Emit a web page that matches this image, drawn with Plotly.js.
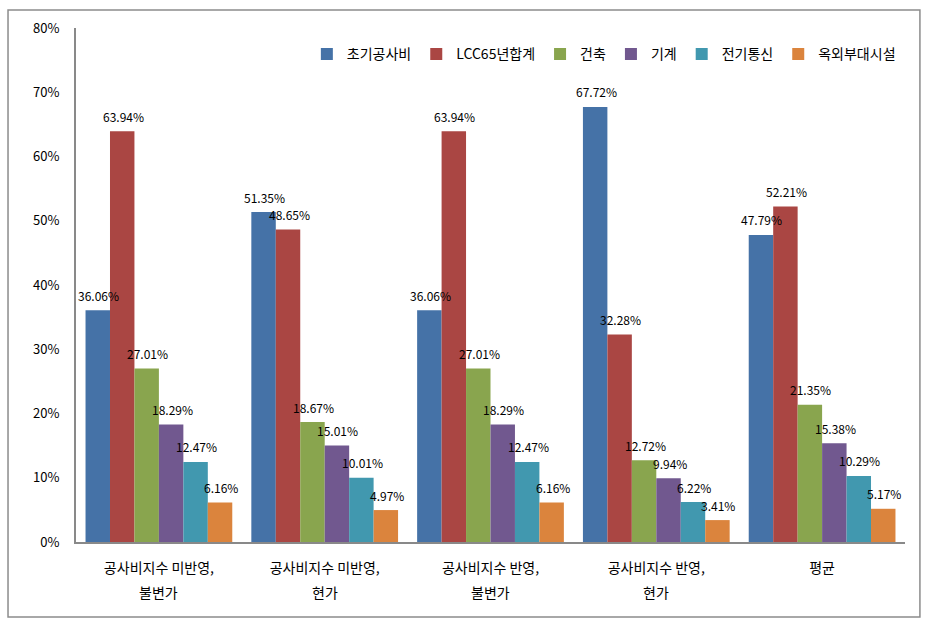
<!DOCTYPE html>
<html>
<head>
<meta charset="utf-8">
<script src="https://cdn.plot.ly/plotly-3.0.1.min.js"></script>
<style>
  body { margin: 0; background: #fff; }
  #chart { width: 932px; height: 625px; }
</style>
</head>
<body>
<div id="chart"></div>
<script>
// categories: first and second line of each label
var catLine1 = ['공사비지수 미반영,', '공사비지수 미반영,', '공사비지수 반영,', '공사비지수 반영,', '평균'];
var catLine2 = ['불변가', '현가', '불변가', '현가', ''];
var categories = catLine1.map((c, i) => c + ' ' + catLine2[i] + ' ' + i);

var seriesNames = ['초기공사비', 'LCC65년합계', '건축', '기계', '전기통신', '옥외부대시설'];

// values in percent
var initialCost = [36.06, 51.35, 36.06, 67.72, 47.79];
var lcc65Total  = [63.94, 48.65, 63.94, 32.28, 52.21];
var building    = [27.01, 18.67, 27.01, 12.72, 21.35];
var machinery   = [18.29, 15.01, 18.29, 9.94, 15.38];
var electric    = [12.47, 10.01, 12.47, 6.22, 10.29];
var outdoor     = [6.16, 4.97, 6.16, 3.41, 5.17];

var seriesValues = [initialCost, lcc65Total, building, machinery, electric, outdoor];
var colors = ['#4572A7', '#AA4643', '#89A54E', '#71588F', '#4198AF', '#DB843D'];

var font = 'Noto Sans CJK KR, sans-serif';
var bargap = 0.115;

var traces = seriesNames.map(function (name, i) {
    return {
        type: 'bar',
        name: name,
        x: categories,
        y: seriesValues[i].map(v => v / 100),
        marker: { color: colors[i] },
        hoverinfo: 'x+y'
    };
});

// bar width in px, used to put the value labels over their bars
var plotWidth = 932 - 76 - 27;
var barPx = plotWidth / categories.length * (1 - bargap) / seriesNames.length;

var annotations = [];
// second line of category labels
categories.forEach(function (c, i) {
    annotations.push({
        x: c, xref: 'x',
        y: -0.097, yref: 'paper',
        text: catLine2[i],
        showarrow: false,
        font: { family: font, size: 14, color: '#000' },
        yanchor: 'middle'
    });
});
// value labels
seriesValues.forEach(function (vals, s) {
    vals.forEach(function (v, i) {
        annotations.push({
            x: categories[i], xref: 'x',
            y: v / 100, yref: 'y',
            text: v.toFixed(2) + '%',
            showarrow: false,
            xshift: (s - 2.5) * barPx + 1,
            yshift: 15,
            yanchor: 'middle',
            font: { family: font, size: 12, color: '#000' }
        });
    });
});

var layout = {
    width: 932,
    height: 625,
    margin: { l: 76, r: 27, t: 28, b: 83 },
    paper_bgcolor: '#fff',
    plot_bgcolor: '#fff',
    font: { family: font, color: '#000' },
    barmode: 'group',
    bargap: bargap,
    bargroupgap: 0,
    showlegend: true,
    legend: {
        orientation: 'h',
        x: 0.995, xanchor: 'right',
        y: 0.98, yanchor: 'top',
        font: { family: font, size: 14 },
        itemwidth: 30,
        bgcolor: 'rgba(0,0,0,0)'
    },
    xaxis: {
        type: 'category',
        tickvals: categories,
        ticktext: catLine1,
        tickfont: { family: font, size: 14 },
        showline: true,
        linecolor: '#898989',
        linewidth: 2,
        ticks: '',
        ticklabelstandoff: 12,
        showgrid: false,
        zeroline: false,
        fixedrange: true
    },
    yaxis: {
        range: [0, 0.8],
        dtick: 0.1,
        tickformat: '.0%',
        tickfont: { family: font, size: 13 },
        showline: true,
        linecolor: '#898989',
        linewidth: 2,
        ticks: '',
        ticklabelstandoff: 12,
        showgrid: false,
        zeroline: false,
        fixedrange: true
    },
    annotations: annotations,
    shapes: [{
        type: 'rect',
        xref: 'paper', yref: 'paper',
        x0: -0.082, x1: 1.018,
        y0: -0.146, y1: 1.035,
        line: { color: '#8c8c8c', width: 1.5 },
        fillcolor: 'rgba(0,0,0,0)',
        layer: 'below'
    }]
};

Plotly.newPlot('chart', traces, layout, { displayModeBar: false, staticPlot: true });
</script>
</body>
</html>
